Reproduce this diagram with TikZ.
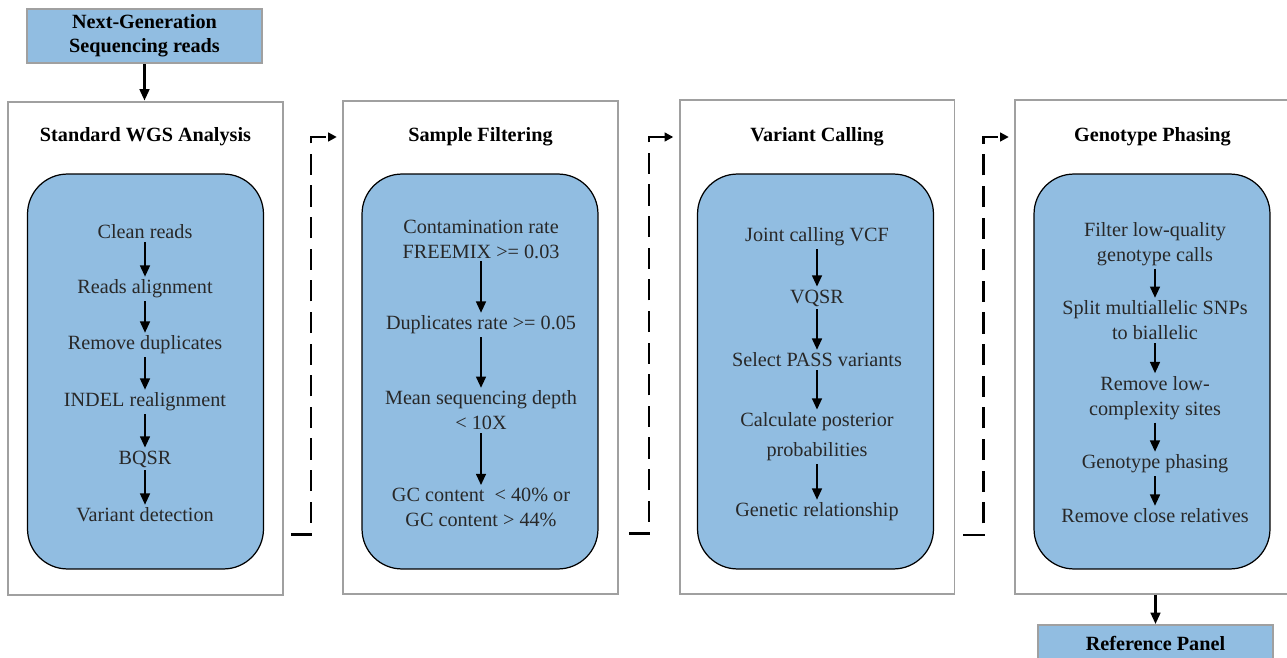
\documentclass[tikz,border=0pt]{standalone}
\usepackage{fontspec}
\setmainfont{Liberation Serif}
\usetikzlibrary{
	arrows.meta,
	calc
}
\definecolor{panelblue}{RGB}{145,189,225}
\definecolor{boxgray}{RGB}{160,160,160}
\definecolor{steptext}{RGB}{40,40,40}
\tikzset{
	stage/.style={draw=boxgray,line width=1.1pt,fill=white,minimum width=5.5cm,minimum height=9.88cm},
	inbox/.style={draw=black,line width=0.7pt,fill=panelblue,rounded corners=0.8cm,minimum width=4.72cm,minimum height=7.9cm},
	stagetitle/.style={font=\fontsize{11.5}{14}\selectfont\bfseries},
	stepnode/.style={align=center,text=steptext,inner sep=1.5pt,font=\fontsize{11.5}{14.2}\selectfont},
	endbox/.style={draw=boxgray,line width=1.1pt,fill=panelblue,minimum width=4.7cm,align=center,font=\fontsize{11.5}{13.6}\selectfont\bfseries},
	steparrow/.style={-{Triangle[length=6.5pt,width=5.5pt]},line width=1.4pt},
	flowline/.style={-{Triangle[length=5pt,width=5pt]},line width=1.3pt,dash pattern=on 12pt off 6pt,shorten >=3pt}
}

\begin{document}
\begin{tikzpicture}[x=0.02cm,y=-0.02cm]
    \useasboundingbox (0,0) rectangle (1287,658);
    \clip (0,0) rectangle (1287,658);
    % Definitions
    \coordinate (NG) at (144.5,36);
    \coordinate (RP) at (1155.5,643);
    \coordinate (S1) at (145.5,348.5);
    \coordinate (S2) at (480.5,347.5);
    \coordinate (S3) at (817,347);
    \coordinate (S4) at (1152.5,347);
    % Stages
    \node(WGS)  at (S1) [stage] {};
    \node(SaFi) at (S2) [stage] {};
    \node(VaCa) at (S3) [stage] {};
    \node(GePh) at (S4) [stage] {};
    \node(WGSIn)  at (145.5,371.5) [inbox] {};
    \node(SaFiIn) at (480,371.5)   [inbox] {};
    \node(VaCaIn) at (815.5,371.5) [inbox] {};
    \node(GePhIn) at (1152,371.5)  [inbox] {};
    \node(WGSTi)  at (145.5,137) [stagetitle] {Standard WGS Analysis};
    \node(SaFiTi) at (480.5,137) [stagetitle] {Sample Filtering};
    \node(VaCaTi) at (817,137)   [stagetitle] {Variant Calling};
    \node(GePhTi) at (1152.5,137) [stagetitle] {Genotype Phasing};
    % Input and output
    \node(NGS)  at (NG) [endbox,minimum height=1.04cm] {Next-Generation\\Sequencing reads};
    \node(RePa) at (RP) [endbox,minimum height=0.72cm] {Reference Panel};
    % Steps
    \node(CleRe) at (145,232) [stepnode] {Clean reads};
    \node(ReAl)  at (145,289) [stepnode] {Reads alignment};
    \node(ReDu)  at (145,345) [stepnode] {Remove duplicates};
    \node(InRe)  at (145,402) [stepnode] {INDEL realignment};
    \node(BQSR)  at (145,459) [stepnode] {BQSR};
    \node(VaDe)  at (145,515) [stepnode] {Variant detection};
    \node(CoRa)   at (481,239)   [stepnode] {Contamination rate\\FREEMIX >= 0.03};
    \node(DuRa)   at (481,325)   [stepnode] {Duplicates rate >= 0.05};
    \node(MeSeDe) at (481,410.5) [stepnode] {Mean sequencing depth\\< 10X};
    \node(GCCo)   at (481,507.5) [stepnode] {GC content\ \ < 40\% or\\GC content > 44\%};
    \node(JoCa) at (817,237) [stepnode] {Joint calling VCF};
    \node(VQSR) at (817,298) [stepnode] {VQSR};
    \node(SePA) at (817,360) [stepnode] {Select PASS variants};
    \node(CaPo) at (817,437) [stepnode] {Calculate posterior\\[3pt]probabilities};
    \node(GeRe) at (817,512) [stepnode] {Genetic relationship};
    \node(FiLoQu) at (1155,244)   [stepnode] {Filter low-quality\\genotype calls};
    \node(SpMu)   at (1155,320.5) [stepnode] {Split multiallelic SNPs\\to biallelic};
    \node(ReLoCo) at (1155,398)   [stepnode] {Remove low-\\complexity sites};
    \node(GtPh)   at (1155,464)   [stepnode] {Genotype phasing};
    \node(ReClRe) at (1155,516)   [stepnode] {Remove close relatives};
    % Arrows
    \draw[steparrow] (NGS) -- (NGS |- WGS.north);
    \draw[steparrow] (RePa |- GePh.south) -- (RePa);
    \draw[steparrow] (CleRe) -- (ReAl);
    \draw[steparrow] (ReAl)  -- (ReDu);
    \draw[steparrow] (ReDu)  -- (InRe);
    \draw[steparrow] (InRe)  -- (BQSR);
    \draw[steparrow] (BQSR)  -- (VaDe);
    \draw[steparrow] (CoRa)   -- (DuRa);
    \draw[steparrow] (DuRa)   -- (MeSeDe);
    \draw[steparrow] (MeSeDe) -- (GCCo);
    \draw[steparrow] (JoCa) -- (VQSR);
    \draw[steparrow] (VQSR) -- (SePA);
    \draw[steparrow] (SePA) -- (CaPo);
    \draw[steparrow] (CaPo) -- (GeRe);
    \draw[steparrow] (FiLoQu) -- (SpMu);
    \draw[steparrow] (SpMu)   -- (ReLoCo);
    \draw[steparrow] (ReLoCo) -- (GtPh);
    \draw[steparrow] (GtPh)   -- (ReClRe);
    \draw[flowline] ($(WGS.south east)+(7,-62)$)  -- ++(20,0) |- (SaFiTi -| SaFi.west);
    \draw[flowline] ($(SaFi.south east)+(10,-62)$) -- ++(20,0) |- (VaCaTi -| VaCa.west);
    \draw[flowline] ($(VaCa.south east)+(8,-60)$)  -- ++(20,0) |- (GePhTi -| GePh.west);
\end{tikzpicture}
\end{document}
